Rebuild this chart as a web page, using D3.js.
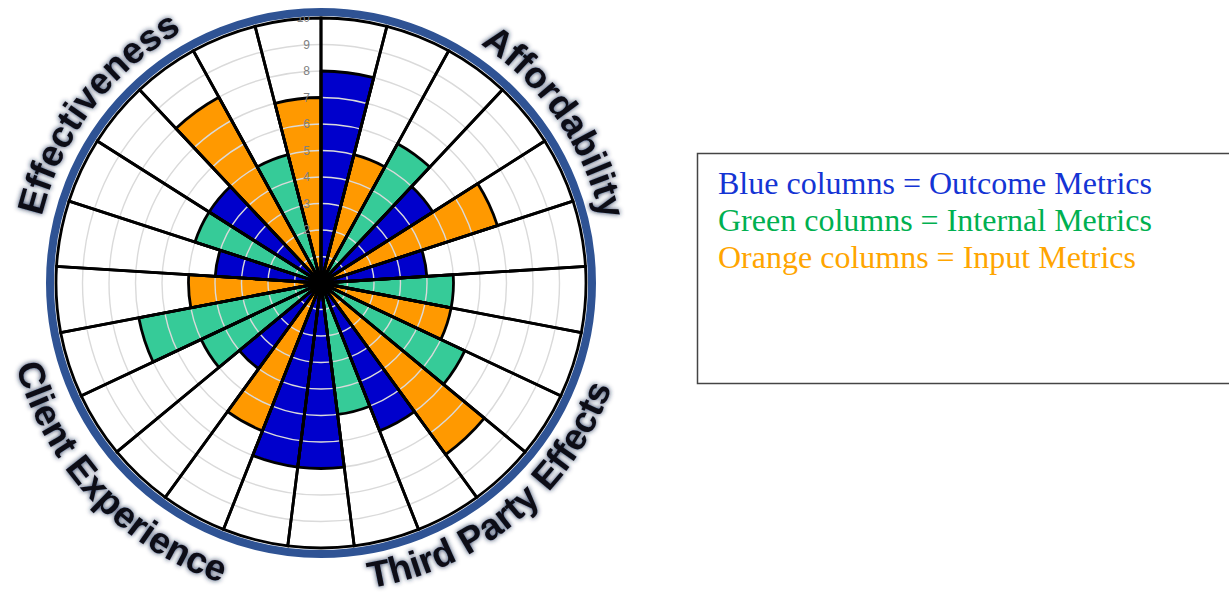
<!DOCTYPE html>
<html>
<head>
<meta charset="utf-8">
<script src="https://cdn.jsdelivr.net/npm/d3@7"></script>
<style>
  body { margin: 0; background: #fff; }
  svg { display: block; }
</style>
</head>
<body>
<div class="chart"></div>
<script>
// 25 metric columns, clockwise from 12 o'clock
var barTypes = ["Outcome", "Input", "Internal", "Outcome", "Input", "Outcome", "Internal", "Input",
  "Internal", "Input", "Outcome", "Internal", "Outcome", "Outcome", "Input", "Outcome", "Internal",
  "Internal", "Input", "Outcome", "Internal", "Outcome", "Input", "Internal", "Input"];
var barValues = [8, 5, 6, 5, 7, 4, 5, 5, 6, 8, 6, 5, 7, 7, 6, 4, 5, 7, 5, 4, 5, 5, 8, 5, 7];

var groupNames = ["Affordability", "Third Party Effects", "Client Experience", "Effectiveness"];
var tickValues = [2, 3, 4, 5, 6, 7, 8, 9, 10];
var legendLines = ["Blue columns = Outcome Metrics", "Green columns = Internal Metrics", "Orange columns = Input Metrics"];
var legendTypes = ["Outcome", "Internal", "Input"];

var barColor = { Outcome: "#0000cc", Internal: "#36cb98", Input: "#ff9900" };
var legendColor = { Outcome: "#1434d4", Internal: "#00b050", Input: "#ffa500" };

var svgWidth = 1229;
var svgHeight = 594;
var cx = 321, cy = 283;
var maxR = 265;

var svg = d3.select(".chart")
  .append("svg")
  .attr("width", svgWidth)
  .attr("height", svgHeight);

var defs = svg.append("defs");
var glow = defs.append("filter").attr("id", "glow")
  .attr("x", "-20%").attr("y", "-20%").attr("width", "140%").attr("height", "140%");
glow.append("feGaussianBlur").attr("in", "SourceAlpha").attr("stdDeviation", 2.6).attr("result", "blur");
glow.append("feFlood").attr("flood-color", "#1c2b4f").attr("flood-opacity", 0.95);
glow.append("feComposite").attr("in2", "blur").attr("operator", "in").attr("result", "shadow");
glow.append("feGaussianBlur").attr("in", "SourceGraphic").attr("stdDeviation", 0.5).attr("result", "src");
var merge = glow.append("feMerge");
merge.append("feMergeNode").attr("in", "shadow");
merge.append("feMergeNode").attr("in", "src");

var chartGroup = svg.append("g")
  .attr("transform", `translate(${cx}, ${cy})`);

// scales
var rScale = d3.scaleLinear().domain([0, 10]).range([0, maxR]);
var aScale = d3.scaleBand().domain(d3.range(barValues.length)).range([0, 2 * Math.PI]).padding(0);

var arc = d3.arc()
  .innerRadius(0)
  .startAngle((d, i) => aScale(i))
  .endAngle((d, i) => aScale(i) + aScale.bandwidth());

// white background sectors
chartGroup.selectAll(".bg")
  .data(barValues)
  .enter()
  .append("path")
  .attr("class", "bg")
  .attr("d", (d, i) => arc.outerRadius(rScale(10))(d, i))
  .attr("fill", "#fff");

// coloured columns
chartGroup.selectAll(".bar")
  .data(barValues)
  .enter()
  .append("path")
  .attr("class", "bar")
  .attr("d", (d, i) => arc.outerRadius(rScale(d))(d, i))
  .attr("fill", (d, i) => barColor[barTypes[i]]);

// gridlines
chartGroup.selectAll(".grid")
  .data(rScale.ticks(10).filter(t => t > 0))
  .enter()
  .append("circle")
  .attr("r", d => rScale(d))
  .attr("fill", "none")
  .attr("stroke", "#dadada")
  .attr("stroke-width", 1.4);

// black outlines
chartGroup.selectAll(".bgline")
  .data(barValues)
  .enter()
  .append("path")
  .attr("d", (d, i) => arc.outerRadius(rScale(10))(d, i))
  .attr("fill", "none")
  .attr("stroke", "#000")
  .attr("stroke-width", 2.8);

chartGroup.selectAll(".barline")
  .data(barValues)
  .enter()
  .append("path")
  .attr("d", (d, i) => arc.outerRadius(rScale(d))(d, i))
  .attr("fill", "none")
  .attr("stroke", "#000")
  .attr("stroke-width", 2.8)
  .attr("stroke-linejoin", "round");

chartGroup.append("circle")
  .attr("r", 12)
  .attr("fill", "#000");

// tick labels
chartGroup.selectAll(".tick")
  .data(tickValues)
  .enter()
  .append("text")
  .attr("x", -11)
  .attr("y", d => -rScale(d))
  .attr("dy", "0.35em")
  .attr("text-anchor", "end")
  .attr("font-family", "Liberation Sans, Arial, sans-serif")
  .attr("font-size", 12)
  .attr("fill", "#808080")
  .text(d => d);

// outer ring
chartGroup.append("circle")
  .attr("r", 271)
  .attr("fill", "none")
  .attr("stroke", "#2f5394")
  .attr("stroke-width", 8);

// curved group labels
var labelAngle = [55.5, 140.3, 226.6, -52.8];
var labelRadius = [287, 309, 316, 287];
function pt(r, deg) {
  var a = deg * Math.PI / 180;
  return [r * Math.sin(a), -r * Math.cos(a)];
}
groupNames.forEach(function (name, i) {
  var a = labelAngle[i], r = labelRadius[i];
  var bottom = Math.cos(a * Math.PI / 180) < 0;
  var p0 = pt(r, bottom ? a + 40 : a - 40);
  var p1 = pt(r, bottom ? a - 40 : a + 40);
  defs.append("path")
    .attr("id", "lp" + i)
    .attr("d", `M${cx + p0[0]},${cy + p0[1]} A${r},${r} 0 0 ${bottom ? 0 : 1} ${cx + p1[0]},${cy + p1[1]}`);
  svg.append("text")
    .attr("font-family", "Liberation Sans, Arial, sans-serif")
    .attr("font-weight", "bold")
    .attr("font-size", 37)
    .attr("fill", "#0b0b14")
    .attr("filter", "url(#glow)")
    .append("textPath")
    .attr("href", "#lp" + i)
    .attr("startOffset", "50%")
    .attr("text-anchor", "middle")
    .text(name);
});

// legend box
var legend = svg.append("g");
legend.append("rect")
  .attr("x", 697.5)
  .attr("y", 153.5)
  .attr("width", 560)
  .attr("height", 230)
  .attr("fill", "#fff")
  .attr("stroke", "#444")
  .attr("stroke-width", 1.5);

legend.selectAll("text")
  .data(legendLines)
  .enter()
  .append("text")
  .attr("x", 718)
  .attr("y", (d, i) => 194 + i * 36.8)
  .attr("font-family", "Liberation Serif, Times New Roman, serif")
  .attr("font-size", 32)
  .attr("fill", (d, i) => legendColor[legendTypes[i]])
  .text(d => d);
</script>
</body>
</html>
